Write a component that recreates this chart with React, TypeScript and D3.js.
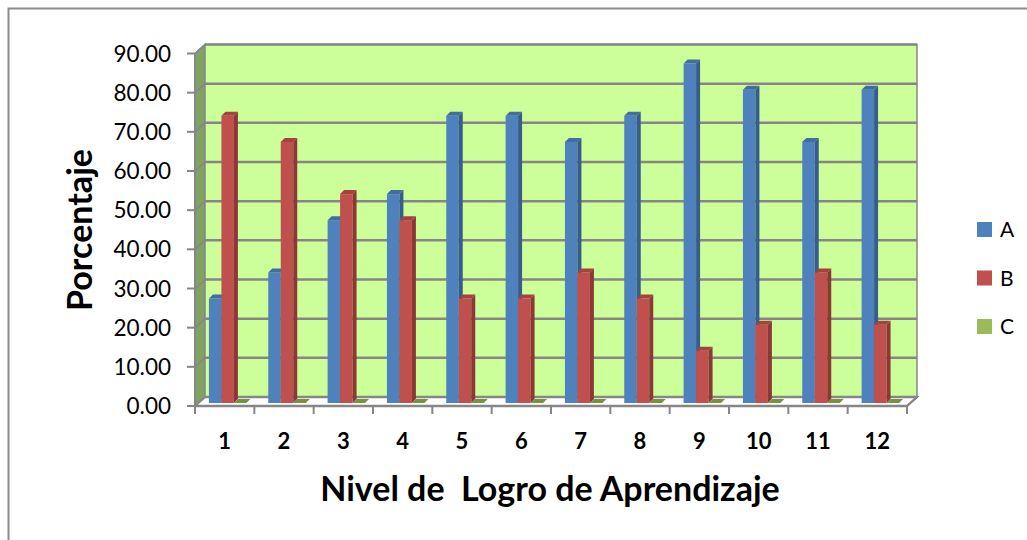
import React from 'react';
import * as d3 from 'd3';

const categories = ['1', '2', '3', '4', '5', '6', '7', '8', '9', '10', '11', '12'];
const seriesNames = ['A', 'B', 'C'];
const valuesA = [26.67, 33.33, 46.67, 53.33, 73.33, 73.33, 66.67, 73.33, 86.67, 80.0, 66.67, 80.0];
const valuesB = [73.33, 66.67, 53.33, 46.67, 26.67, 26.67, 33.33, 26.67, 13.33, 20.0, 33.33, 20.0];
const valuesC = [0, 0, 0, 0, 0, 0, 0, 0, 0, 0, 0, 0];
const yTicks = [0, 10, 20, 30, 40, 50, 60, 70, 80, 90];

const W = 1027;
const H = 540;
const font = "Lato, 'Open Sans', sans-serif";

// front plane of the plot, the walls sit behind it
const plot = { left: 195, right: 907, top: 53.5, bottom: 406 };
const wall = { dx: 10, dy: -9 };
const barShift = { dx: 3, dy: -3 };
const barDepth = { dx: 4, dy: -4 };

const colors: Record<string, { front: string; side: string; top: string }> = {
  A: { front: '#4F81BD', side: '#385D8A', top: '#426D9F' },
  B: { front: '#C0504D', side: '#8C3836', top: '#A4423F' },
  C: { front: '#9BBB59', side: '#71893F', top: '#76923C' },
};

const gridColor = '#868686';

export default function App() {
  const series = [valuesA, valuesB, valuesC];

  const y = d3.scaleLinear().domain([0, 90]).range([plot.bottom, plot.top]);
  const x = d3.scaleBand<string>().domain(categories).range([plot.left, plot.right]).padding(0);
  const xs = d3.scaleBand<string>().domain(seriesNames).range([0, x.bandwidth()]).paddingInner(0).paddingOuter(0.875);

  const pts = (p: number[][]) => p.map((d) => d.join(',')).join(' ');

  const bx0 = plot.left + wall.dx;
  const bx1 = plot.right + wall.dx;

  const bars: React.ReactNode[] = [];
  categories.forEach((cat, i) => {
    seriesNames.forEach((s, j) => {
      const v = series[j][i];
      const x0 = (x(cat) as number) + (xs(s) as number) + barShift.dx;
      const w = xs.bandwidth();
      const yb = y(0) + barShift.dy;
      const yt = y(v) + barShift.dy;
      const c = colors[s];
      bars.push(
        <g key={`${cat}-${s}`}>
          {yb - yt > 0.5 && <rect x={x0} y={yt} width={w} height={yb - yt} fill={c.front} />}
          {yb - yt > 0.5 && (
            <polygon
              points={pts([[x0 + w, yt], [x0 + w + barDepth.dx, yt + barDepth.dy], [x0 + w + barDepth.dx, yb + barDepth.dy], [x0 + w, yb]])}
              fill={c.side}
            />
          )}
          <polygon
            points={pts([[x0, yt], [x0 + barDepth.dx, yt + barDepth.dy], [x0 + w + barDepth.dx, yt + barDepth.dy], [x0 + w, yt]])}
            fill={c.top}
          />
        </g>
      );
    });
  });

  return (
    <svg width={W} height={H} style={{ position: 'absolute', left: 0, top: 0, background: '#fff' }}>
      <rect x={8.5} y={8.5} width={W + 10} height={H + 10} fill="#fff" stroke="#8c8c8c" strokeWidth={2} />

      {/* side wall */}
      <polygon
        points={pts([[plot.left, y(0)], [plot.left, y(90)], [bx0, y(90) + wall.dy], [bx0, y(0) + wall.dy]])}
        fill="#80A262"
        stroke={gridColor}
        strokeWidth={1.5}
      />
      {/* back wall */}
      <rect x={bx0} y={y(90) + wall.dy} width={bx1 - bx0} height={y(0) - y(90)} fill="#CCFF99" stroke={gridColor} strokeWidth={1.5} />
      {/* floor */}
      <polygon
        points={pts([[plot.left, y(0)], [bx0, y(0) + wall.dy], [bx1, y(0) + wall.dy], [plot.right, y(0)]])}
        fill="#fff"
        stroke={gridColor}
        strokeWidth={2}
      />

      {/* gridlines */}
      {yTicks.map((t) => (
        <g key={`g${t}`}>
          <line x1={bx0} x2={bx1} y1={y(t) + wall.dy} y2={y(t) + wall.dy} stroke={gridColor} strokeWidth={2.5} />
          <line x1={plot.left} x2={bx0} y1={y(t)} y2={y(t) + wall.dy} stroke={gridColor} strokeWidth={1.5} />
        </g>
      ))}

      {bars}

      {/* axes */}
      <line x1={plot.left} x2={plot.left} y1={y(90)} y2={y(0)} stroke={gridColor} strokeWidth={2} />
      <line x1={plot.left} x2={plot.right} y1={y(0)} y2={y(0)} stroke={gridColor} strokeWidth={2.5} />
      <line x1={plot.right} x2={bx1} y1={y(0)} y2={y(0) + wall.dy} stroke={gridColor} strokeWidth={2} />
      {yTicks.map((t) => (
        <g key={`t${t}`}>
          <line x1={plot.left - 8} x2={plot.left} y1={y(t)} y2={y(t)} stroke={gridColor} strokeWidth={2} />
          <text x={171} y={y(t)} dy="0.36em" textAnchor="end" fontFamily={font} fontSize={22.5} fill="#000">
            {t.toFixed(2)}
          </text>
        </g>
      ))}
      {[...categories.map((c) => x(c) as number), plot.right].map((px, i) => (
        <line key={`xt${i}`} x1={px} x2={px} y1={y(0)} y2={y(0) + 8} stroke={gridColor} strokeWidth={2} />
      ))}
      {categories.map((c) => (
        <text
          key={`xl${c}`}
          x={(x(c) as number) + x.bandwidth() / 2}
          y={441}
          dy="0.36em"
          textAnchor="middle"
          fontFamily={font}
          fontWeight="bold"
          fontSize={22}
          fill="#000"
        >
          {c}
        </text>
      ))}

      {/* axis titles */}
      <text
        transform="translate(80,230) rotate(-90)"
        textAnchor="middle"
        dy="0.36em"
        fontFamily={font}
        fontWeight="bold"
        fontSize={34}
        fill="#000"
      >
        Porcentaje
      </text>
      <text x={550} y={489} dy="0.36em" textAnchor="middle" fontFamily={font} fontWeight="bold" fontSize={34} fill="#000" style={{ whiteSpace: 'pre' }}>
        {'Nivel de  Logro de Aprendizaje'}
      </text>

      {/* legend */}
      {seriesNames.map((s, i) => (
        <g key={`lg${s}`} transform={`translate(977,${222 + i * 48.5})`}>
          <rect width={15} height={15} fill={colors[s].front} />
          <text x={23} y={7.5} dy="0.36em" fontFamily={font} fontSize={21} fill="#000">
            {s}
          </text>
        </g>
      ))}
    </svg>
  );
}
